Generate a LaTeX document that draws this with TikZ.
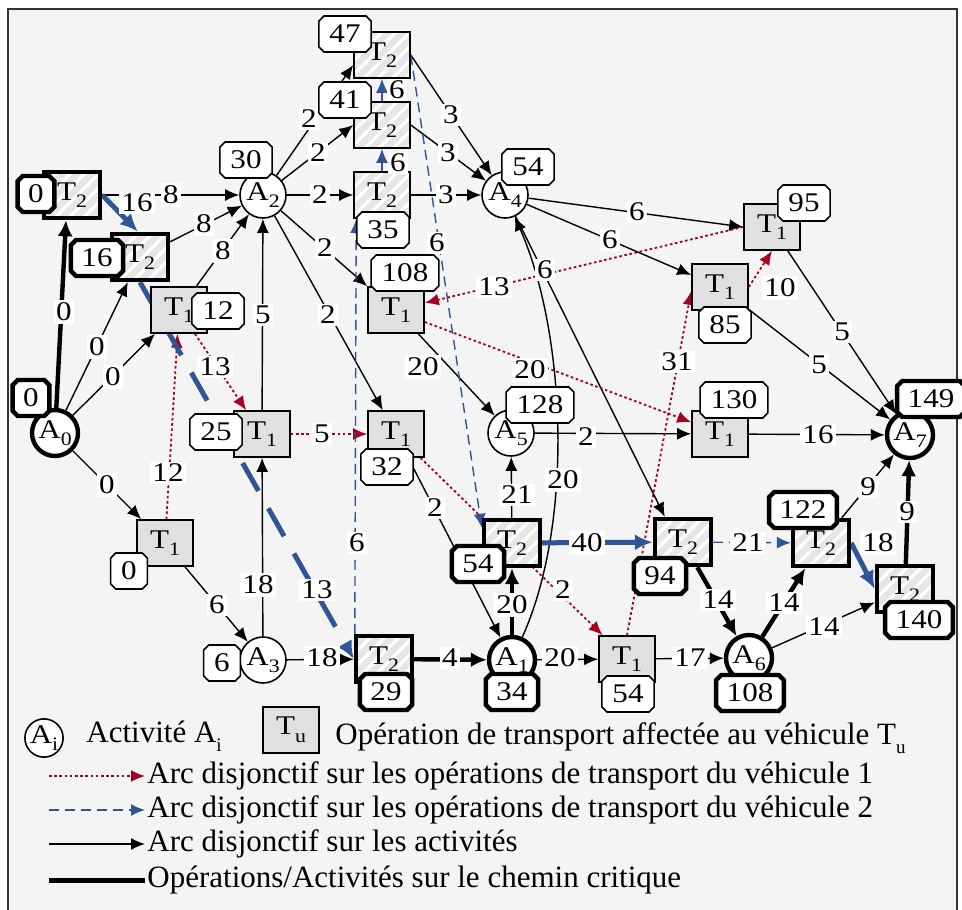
\documentclass[tikz,border=0pt]{standalone}
\usepackage{fontspec}
\setmainfont{Liberation Serif}
\newfontfamily\dfont[FakeStretch=1.15]{Liberation Serif}
\usetikzlibrary{arrows.meta,shapes.misc,patterns.meta,calc}
\definecolor{bgc}{HTML}{F4F4F4}
\definecolor{tone}{HTML}{E0E0E0}
\definecolor{ttwo}{HTML}{E6E6E6}
\definecolor{vred}{HTML}{A50021}
\definecolor{vblue}{HTML}{2F5597}
\definecolor{frm}{HTML}{333333}
\newcommand{\ssb}[1]{\raisebox{-0.28em}{\fontsize{9.5}{10}\selectfont #1}}
\pgfdeclarelayer{bg}
\pgfsetlayers{bg,main}
\tikzset{
  act/.style={circle, draw, fill=white, minimum size=23pt, inner sep=0pt, line width=0.8pt},
  actc/.style={act, line width=2.2pt},
  opA/.style={rectangle, draw, fill=tone, minimum width=28pt, minimum height=23pt, inner sep=0pt, line width=0.8pt},
  opB/.style={rectangle, draw, preaction={fill=ttwo}, preaction={pattern={Lines[angle=45,distance=5pt,line width=1.6pt]}, pattern color=white}, minimum width=28pt, minimum height=23pt, inner sep=0pt, line width=0.8pt},
  opBc/.style={opB, line width=2.2pt},
  tbox/.style={chamfered rectangle, chamfered rectangle xsep=1.3pt, chamfered rectangle ysep=1.3pt, draw, fill=white, minimum width=18pt, minimum height=18pt, inner xsep=4pt, inner ysep=1pt, line width=0.8pt},
  tboxc/.style={tbox, line width=2.2pt},
  lbl/.style={fill=white, inner sep=1.2pt},
  arc/.style={-{Latex[length=7pt,width=6pt]}, line width=0.7pt},
  arcc/.style={-{Latex[length=8pt,width=7.5pt]}, line width=2.2pt},
  v1/.style={-{Latex[length=7pt,width=6pt]}, vred, line width=0.9pt, dash pattern=on 1.3pt off 1.3pt},
  v2/.style={-{Latex[length=7pt,width=6pt]}, vblue, line width=0.7pt, dash pattern=on 5pt off 3pt},
  v2c/.style={-{Latex[length=9pt,width=8pt]}, vblue, line width=2.5pt},
  v2cd/.style={v2c, dash pattern=on 16pt off 10pt},
  legtxt/.style={anchor=west, inner sep=1pt, font=\rmfamily\fontsize{15.5}{17}\selectfont}
}
\begin{document}
\begin{tikzpicture}[x=0.5pt,y=-0.5pt, font=\dfont\fontsize{13.5}{15}\selectfont]
\useasboundingbox (0,0) rectangle (962,909);
% activities
\node[actc] (A0) at (55,433) {A\ssb{0}};
\node[actc] (A1) at (512,660) {A\ssb{1}};
\node[act] (A2) at (263,195) {A\ssb{2}};
\node[act] (A3) at (263,660) {A\ssb{3}};
\node[act] (A4) at (505,195) {A\ssb{4}};
\node[act] (A5) at (511,433) {A\ssb{5}};
\node[actc] (A6) at (749,658) {A\ssb{6}};
\node[actc] (A7) at (910,435) {A\ssb{7}};
% operations
\node[opBc] (T2a) at (72,195) {T\ssb{2}};
\node[opBc] (T2b) at (140,257) {T\ssb{2}};
\node[opA] (T1c) at (179,310) {T\ssb{1}};
\node[opA] (T1d) at (165,543) {T\ssb{1}};
\node[opA] (T1e) at (262,434) {T\ssb{1}};
\node[opA] (T1f) at (396,434) {T\ssb{1}};
\node[opB] (T2g) at (382,195) {T\ssb{2}};
\node[opB] (T2h) at (382,125) {T\ssb{2}};
\node[opB] (T2i) at (382,55) {T\ssb{2}};
\node[opA] (T1j) at (396,310) {T\ssb{1}};
\node[opBc] (T2k) at (512,543) {T\ssb{2}};
\node[opBc] (T2l) at (384,659) {T\ssb{2}};
\node[opA] (T1m) at (627,659) {T\ssb{1}};
\node[opA] (T1n) at (720,287) {T\ssb{1}};
\node[opA] (T1o) at (772,227) {T\ssb{1}};
\node[opA] (T1p) at (720,434) {T\ssb{1}};
\node[opBc] (T2q) at (683,542) {T\ssb{2}};
\node[opBc] (T2r) at (821,543) {T\ssb{2}};
\node[opBc] (T2s) at (905,589) {T\ssb{2}};

\begin{pgfonlayer}{bg}
\draw[frm, line width=1.2pt, fill=bgc] (8,9) rectangle (957,935);
% activity arcs
\draw[arcc] (A0) -- ($(T2a.south)+(-6,0)$);
\draw[arc] (A0) -- (T2b);
\draw[arc] (A0) -- (T1c);
\draw[arc] (A0) -- (T1d);
\draw[arc] (T2a) -- (A2);
\draw[arc] (T2b) -- (A2);
\draw[arc] (T1c) -- (A2);
\draw[arc] (T1e) -- (A2);
\draw[arc] (A3) -- (T1e);
\draw[arc] (T1d) -- (A3);
\draw[arc] (A2) -- ($(T2i.west)+(0,10)$);
\draw[arc] (A2) -- (T2h.west);
\draw[arc] (A2) -- (T2g);
\draw[arc] (A2) -- (T1j.north west);
\draw[arc] (A2) -- (T1f);
\draw[arc] (T2i.east) -- (A4);
\draw[arc] (T2h.east) -- (A4);
\draw[arc] (T2g) -- (A4);
\draw[arc] (A4) -- (T1o.west);
\draw[arc] (A4) -- ($(T1n.west)+(0,-12)$);
\draw[arc] (A4) -- ($(T2q.north west)+(12,0)$);
\draw[arc] (A1) .. controls (575,520) and (565,330) .. (A4);
\draw[arc] (T1j) -- (A5);
\draw[arc] (A5) -- (T1p);
\draw[arc] (T1p) -- (A7);
\draw[arc] (T1o) -- (A7);
\draw[arc] (T1n) -- (A7);
\draw[arc] (T2k) -- (A5);
\draw[arcc] (A1) -- (T2k);
\draw[arc] (T1f) -- (A1);
\draw[arc] (A3) -- (T2l);
\draw[arcc] (T2l) -- (A1);
\draw[arc] (A1) -- (T1m);
\draw[arc] (T1m) -- (A6);
\draw[arcc] (T2q) -- (A6);
\draw[arcc] (A6) -- (T2r);
\draw[arc] (A6) -- (T2s);
\draw[arc] (T2r) -- (A7);
\draw[arcc] (T2s) -- (A7);
% vehicle 1
\draw[v1] (T1d) -- (T1c);
\draw[v1] (T1c) -- (T1e);
\draw[v1] (T1e) -- (T1f);
\draw[v1] (T1f) -- (T1m);
\draw[v1] (T1m.north) -- ($(T1n.west)+(0,4)$);
\draw[v1] (T1n.east) -- (T1o.south);
\draw[v1] (T1o.west) -- ($(T1j.east)+(0,-7)$);
\draw[v1] ($(T1j.east)+(0,12)$) -- ($(T1p.north west)+(0,12)$);
% vehicle 2
\draw[v2c] (T2a.east) -- ($(T2b.north)+(-2,0)$);
\draw[v2cd] (T2b.south) -- (T2l.west);
\draw[v2] ($(T2l.north west)+(1,0)$) -- ($(T2g.south west)+(3,0)$);
\draw[v2] (T2g) -- (T2h);
\draw[v2] (T2h) -- (T2i);
\draw[v2] (T2i.east) -- ($(T2k.north west)+(0,10)$);
\draw[v2c] (T2k) -- (T2q);
\draw[v2] (T2q) -- (T2r);
\draw[v2c] (T2r.east) -- (T2s.west);
\end{pgfonlayer}

% arc labels
\node[lbl] (l1) at (64,312) {0};
\node[lbl] (l2) at (97,347) {0};
\node[lbl] (l3) at (113,377) {0};
\node[lbl] (l4) at (107,485) {0};
\node[lbl] (l5) at (171,195) {8};
\node[lbl] (l6) at (204,224) {8};
\node[lbl] (l7) at (223,251) {8};
\node[lbl] (l8) at (263,315) {5};
\node[lbl] (l9) at (258,585) {18};
\node[lbl] (l10) at (217,605) {6};
\node[lbl] (l11) at (309,119) {2};
\node[lbl] (l12) at (318,153) {2};
\node[lbl] (l13) at (320,195) {2};
\node[lbl] (l14) at (325,248) {2};
\node[lbl] (l15) at (328,315) {2};
\node[lbl] (l16) at (451,115) {3};
\node[lbl] (l17) at (448,153) {3};
\node[lbl] (l18) at (446,195) {3};
\node[lbl] (l19) at (637,212) {6};
\node[lbl] (l20) at (610,240) {6};
\node[lbl] (l21) at (545,270) {6};
\node[lbl] (l22) at (563,480) {20};
\node[lbl] (l23) at (423,367) {20};
\node[lbl] (l24) at (586,437) {2};
\node[lbl] (l25) at (818,435) {16};
\node[lbl] (l26) at (842,332) {5};
\node[lbl] (l27) at (819,365) {5};
\node[lbl] (l28) at (517,495) {21};
\node[lbl] (l29) at (512,605) {20};
\node[lbl] (l30) at (435,508) {2};
\node[lbl] (l31) at (322,658) {18};
\node[lbl] (l32) at (450,658) {4};
\node[lbl] (l33) at (560,658) {20};
\node[lbl] (l34) at (690,658) {17};
\node[lbl] (l35) at (718,600) {14};
\node[lbl] (l36) at (784,603) {14};
\node[lbl] (l37) at (824,627) {14};
\node[lbl] (l38) at (868,487) {9};
\node[lbl] (l39) at (907,512) {9};
\node[lbl] (l40) at (168,473) {12};
\node[lbl] (l41) at (215,367) {13};
\node[lbl] (l42) at (322,434) {5};
\node[lbl] (l43) at (563,590) {2};
\node[lbl] (l44) at (677,362) {31};
\node[lbl] (l45) at (780,288) {10};
\node[lbl] (l46) at (494,287) {13};
\node[lbl] (l47) at (530,370) {20};
\node[lbl] (l48) at (137,203) {16};
\node[lbl] (l49) at (317,590) {13};
\node[lbl] (l50) at (357,543) {6};
\node[lbl] (l51) at (398,163) {6};
\node[lbl] (l52) at (397,90) {6};
\node[lbl] (l53) at (437,243) {6};
\node[lbl] (l54) at (587,543) {40};
\node[lbl] (l55) at (748,543) {21};
\node[lbl] (l56) at (878,543) {18};

% start times
\node[tboxc] (s0) at (31,398) {0};
\node[tboxc] (s1) at (512,692) {34};
\node[tbox] (s2) at (246,160) {30};
\node[tbox] (s3) at (222,663) {6};
\node[tbox] (s4) at (528,167) {54};
\node[tbox] (s5) at (540,405) {128};
\node[tboxc] (s6) at (750,693) {108};
\node[tboxc] (s7) at (931,399) {149};
\node[tboxc] (sa) at (36,194) {0};
\node[tboxc] (sb) at (97,258) {16};
\node[tbox] (sc) at (218,311) {12};
\node[tbox] (sd) at (129,571) {0};
\node[tbox] (se) at (216,432) {25};
\node[tbox] (sf) at (387,467) {32};
\node[tbox] (sg) at (383,230) {35};
\node[tbox] (sh) at (345,100) {41};
\node[tbox] (si) at (345,34) {47};
\node[tbox] (sj) at (405,273) {108};
\node[tboxc] (sk) at (478,564) {54};
\node[tboxc] (sl) at (386,692) {29};
\node[tbox] (sm) at (628,694) {54};
\node[tbox] (sn) at (725,325) {85};
\node[tbox] (so) at (804,203) {95};
\node[tbox] (sp) at (734,400) {130};
\node[tboxc] (sq) at (660,576) {94};
\node[tboxc] (sr) at (803,510) {122};
\node[tboxc] (ss) at (919,620) {140};

% legend
\node[act, minimum size=19pt] (LA) at (44,738) {A\ssb{i}};
\node[legtxt] (LAt) at (84,736) {Activité A\ssb{i}};
\node[opA] (LT) at (291,730) {T\ssb{u}};
\node[legtxt] (LTt) at (333,738) {Opération de transport affectée au véhicule T\ssb{u}};
\coordinate (r1) at (49,776); \coordinate (r2) at (145,776);
\coordinate (b1) at (49,810); \coordinate (b2) at (145,810);
\coordinate (k1) at (49,844); \coordinate (k2) at (145,844);
\coordinate (c1) at (49,880); \coordinate (c2) at (145,880);
\draw[v1] (r1) -- (r2);
\draw[v2] (b1) -- (b2);
\draw[arc] (k1) -- (k2);
\draw[line width=2.5pt] (c1) -- (c2);
\node[legtxt] (Lr) at (r2) {Arc disjonctif sur les opérations de transport du véhicule 1};
\node[legtxt] (Lb) at (b2) {Arc disjonctif sur les opérations de transport du véhicule 2};
\node[legtxt] (Lk) at (k2) {Arc disjonctif sur les activités};
\node[legtxt] (Lc) at (c2) {Opérations/Activités sur le chemin critique};
\end{tikzpicture}
\end{document}
